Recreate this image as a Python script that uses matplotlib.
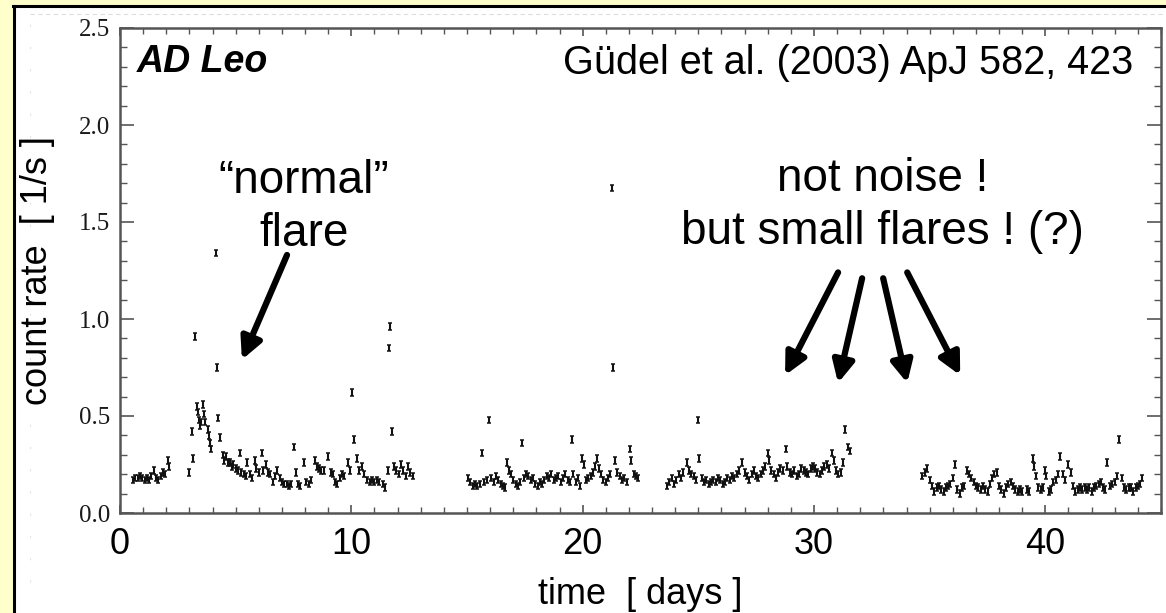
import numpy as np
import matplotlib.pyplot as plt
from matplotlib.patches import Rectangle
from matplotlib.lines import Line2D
from matplotlib.ticker import MultipleLocator

# light curve of AD Leo (time in days, count rate in 1/s)
t_a = [0.56, 0.66, 0.76, 0.86, 0.96, 1.06, 1.16, 1.26, 1.36, 1.46, 1.56, 1.66, 1.76, 1.86,
       1.96, 2.06, 2.12]
r_a = [0.17, 0.18, 0.18, 0.19, 0.18, 0.17, 0.18, 0.17, 0.19, 0.22, 0.18, 0.17, 0.19, 0.21,
       0.20, 0.27, 0.24]

t_flare = [2.98, 3.11, 3.16, 3.24, 3.33, 3.36, 3.40, 3.45, 3.50, 3.59, 3.63, 3.68, 3.80, 3.85,
           3.90, 3.94, 4.15, 4.19, 4.24, 4.32, 4.45, 4.50, 4.58, 4.65, 4.76, 4.85, 4.90, 5.00,
           5.10, 5.19, 5.25, 5.35, 5.45, 5.50, 5.60, 5.70, 5.84, 5.90, 6.00, 6.13, 6.20, 6.30,
           6.40, 6.50, 6.63, 6.70, 6.80, 6.90, 7.00, 7.10, 7.20, 7.30, 7.40, 7.52, 7.60, 7.70,
           7.80, 7.96, 8.05, 8.15, 8.25, 8.43, 8.50, 8.60, 8.70, 8.80, 9.00, 9.10, 9.20, 9.30,
           9.38, 9.50, 9.60, 9.70, 9.86, 9.95, 10.03, 10.12, 10.25, 10.35, 10.45, 10.55, 10.68,
           10.80, 10.90, 11.00, 11.10, 11.20, 11.35, 11.46, 11.60, 11.63, 11.67, 11.76, 11.85,
           11.95, 12.05, 12.15, 12.25, 12.35, 12.45, 12.55, 12.65]
r_flare = [0.21, 0.42, 0.28, 0.91, 0.55, 0.52, 0.48, 0.45, 0.47, 0.56, 0.51, 0.47, 0.43, 0.40,
           0.36, 0.33, 1.34, 0.75, 0.49, 0.39, 0.30, 0.27, 0.29, 0.26, 0.26, 0.24, 0.25, 0.23,
           0.22, 0.31, 0.21, 0.20, 0.19, 0.26, 0.20, 0.18, 0.27, 0.23, 0.21, 0.31, 0.22, 0.25,
           0.21, 0.20, 0.16, 0.19, 0.22, 0.18, 0.16, 0.15, 0.15, 0.14, 0.15, 0.34, 0.21, 0.15,
           0.14, 0.26, 0.16, 0.15, 0.17, 0.27, 0.24, 0.23, 0.22, 0.22, 0.29, 0.21, 0.20, 0.16,
           0.15, 0.18, 0.20, 0.19, 0.26, 0.22, 0.62, 0.38, 0.28, 0.22, 0.24, 0.20, 0.17,
           0.16, 0.17, 0.16, 0.17, 0.16, 0.15, 0.13, 0.22, 0.85, 0.96, 0.42, 0.24,
           0.22, 0.20, 0.25, 0.22, 0.19, 0.24, 0.21, 0.19]

t_b = [15.05, 15.15, 15.25, 15.35, 15.45, 15.55, 15.65, 15.75, 15.85, 15.95, 16.05, 16.15,
       16.25, 16.35, 16.45, 16.55, 16.65, 16.73, 16.80, 16.90, 17.00, 17.10, 17.20, 17.30,
       17.38, 17.45, 17.55, 17.65, 17.75, 17.85, 17.95, 18.05, 18.15, 18.25, 18.35, 18.45,
       18.55, 18.65, 18.75, 18.85, 18.95, 19.05, 19.15, 19.25, 19.35, 19.45, 19.54, 19.60,
       19.70, 19.80, 19.90, 19.97, 20.05, 20.15, 20.25, 20.35, 20.45, 20.55, 20.60, 20.70,
       20.80, 20.90, 21.00, 21.10, 21.20, 21.27, 21.30, 21.40, 21.50, 21.60, 21.70, 21.80,
       21.90, 22.05, 22.10, 22.20, 22.30, 22.40]
r_b = [0.18, 0.16, 0.14, 0.15, 0.14, 0.15, 0.31, 0.16, 0.17, 0.48, 0.18, 0.16,
       0.19, 0.17, 0.15, 0.14, 0.13, 0.26, 0.22, 0.20, 0.17, 0.15, 0.14, 0.16,
       0.36, 0.18, 0.20, 0.19, 0.17, 0.18, 0.15, 0.14, 0.16, 0.15, 0.17, 0.19,
       0.18, 0.20, 0.17, 0.18, 0.19, 0.16, 0.18, 0.20, 0.17, 0.16, 0.38, 0.20,
       0.16, 0.18, 0.14, 0.28, 0.25, 0.17, 0.18, 0.19, 0.21, 0.24, 0.28, 0.23,
       0.20, 0.17, 0.16, 0.18, 0.20, 1.675, 0.75, 0.27, 0.21, 0.19, 0.17, 0.18,
       0.16, 0.33, 0.27, 0.20, 0.19, 0.18]

t_c = [23.65, 23.75, 23.85, 23.95, 24.05, 24.15, 24.25, 24.35, 24.50, 24.60, 24.70, 24.80,
       24.90, 25.00, 25.05, 25.15, 25.25, 25.35, 25.45, 25.55, 25.65, 25.75, 25.85, 25.95,
       26.05, 26.15, 26.25, 26.35, 26.45, 26.55, 26.65, 26.75, 26.90, 27.00, 27.10, 27.20,
       27.30, 27.40, 27.50, 27.60, 27.70, 27.80, 27.90, 28.00, 28.05, 28.15, 28.25, 28.35,
       28.45, 28.55, 28.65, 28.80, 28.85, 28.95, 29.05, 29.15, 29.25, 29.35, 29.45, 29.55,
       29.65, 29.75, 29.85, 29.95, 30.05, 30.15, 30.25, 30.35, 30.45, 30.55, 30.65, 30.78,
       30.85, 30.95, 31.05, 31.15, 31.25, 31.35, 31.48, 31.55]
r_c = [0.14, 0.16, 0.18, 0.15, 0.17, 0.20, 0.18, 0.21, 0.26, 0.22, 0.20, 0.19,
       0.17, 0.48, 0.28, 0.18, 0.16, 0.17, 0.15, 0.16, 0.17, 0.16, 0.18, 0.17,
       0.15, 0.16, 0.18, 0.17, 0.19, 0.18, 0.20, 0.22, 0.26, 0.21, 0.19, 0.17,
       0.20, 0.22, 0.19, 0.18, 0.20, 0.22, 0.24, 0.31, 0.27, 0.22, 0.20, 0.18,
       0.21, 0.23, 0.22, 0.33, 0.24, 0.21, 0.20, 0.22, 0.19, 0.20, 0.23, 0.22,
       0.21, 0.20, 0.23, 0.24, 0.23, 0.21, 0.20, 0.22, 0.24, 0.25, 0.23, 0.31,
       0.27, 0.22, 0.20, 0.21, 0.26, 0.43, 0.34, 0.32]

t_d = [34.67, 34.80, 34.90, 35.00, 35.10, 35.20, 35.30, 35.40, 35.50, 35.60, 35.70, 35.80,
       35.90, 36.00, 36.10, 36.20, 36.30, 36.40, 36.50, 36.60, 36.70, 36.80, 36.90, 37.00,
       37.10, 37.20, 37.30, 37.40, 37.50, 37.60, 37.70, 37.80, 37.90, 38.00, 38.10, 38.20,
       38.30, 38.40, 38.50, 38.60, 38.70, 38.80, 38.90, 39.00, 39.20, 39.30, 39.45, 39.50,
       39.60, 39.70, 39.80, 39.90, 40.00, 40.05, 40.15, 40.25, 40.35, 40.45, 40.55, 40.64,
       40.75, 40.85, 41.00, 41.10, 41.20, 41.30, 41.40, 41.50, 41.60, 41.70, 41.80, 41.90,
       42.00, 42.10, 42.20, 42.30, 42.40, 42.50, 42.60, 42.67, 42.80, 42.90, 43.00, 43.10,
       43.20, 43.30, 43.40, 43.50, 43.60, 43.70, 43.80, 43.90, 44.00, 44.10, 44.20]
r_d = [0.19, 0.21, 0.23, 0.17, 0.14, 0.11, 0.13, 0.14, 0.12, 0.11, 0.13, 0.14,
       0.15, 0.18, 0.25, 0.12, 0.10, 0.13, 0.14, 0.22, 0.20, 0.18, 0.16, 0.14,
       0.13, 0.12, 0.14, 0.12, 0.11, 0.15, 0.18, 0.20, 0.21, 0.14, 0.12, 0.10,
       0.13, 0.15, 0.16, 0.14, 0.12, 0.11, 0.12, 0.11, 0.12, 0.11, 0.28, 0.24,
       0.19, 0.13, 0.12, 0.13, 0.22, 0.19, 0.11, 0.12, 0.16, 0.17, 0.20, 0.29,
       0.20, 0.17, 0.25, 0.21, 0.14, 0.11, 0.12, 0.13, 0.12, 0.13, 0.12, 0.13,
       0.11, 0.13, 0.14, 0.15, 0.16, 0.13, 0.12, 0.26, 0.14, 0.15, 0.16, 0.19,
       0.38, 0.18, 0.13, 0.12, 0.13, 0.13, 0.11, 0.13, 0.14, 0.15, 0.18]

x_ticks = [0, 10, 20, 30, 40]
y_ticks = [0.0, 0.5, 1.0, 1.5, 2.0, 2.5]

# arrow (tail, tip) positions in data units
flare_arrow = ((7.22, 1.33), (5.27, 0.79))
small_arrows = [((31.04, 1.24), (28.75, 0.71)),
                ((32.08, 1.21), (31.04, 0.67)),
                ((32.99, 1.21), (34.03, 0.67)),
                ((34.03, 1.24), (36.32, 0.71))]

W, H = 1166, 613
fig = plt.figure(figsize=(W / 100, H / 100), dpi=100, facecolor='#FFFFCC')

# white slide panel with black left/top edge
fig.patches.append(Rectangle((15 / W, 0), 1, 1 - 7 / H, transform=fig.transFigure,
                             facecolor='white', edgecolor='none', zorder=-10))
fig.lines.append(Line2D([14 / W, 14 / W], [0, 1 - 5.5 / H], transform=fig.transFigure,
                        color='black', lw=2.2, zorder=-5))
fig.lines.append(Line2D([13 / W, 1], [1 - 5.5 / H, 1 - 5.5 / H], transform=fig.transFigure,
                        color='black', lw=2.2, zorder=-5))
# faint dashed scan border
fig.lines.append(Line2D([30 / W, 1], [1 - 14 / H, 1 - 14 / H], transform=fig.transFigure,
                        color='#dddddd', lw=0.8, ls=(0, (4, 3)), zorder=-5))
fig.lines.append(Line2D([30 / W, 30 / W], [0.05, 1 - 14 / H], transform=fig.transFigure,
                        color='#e4e4e4', lw=0.8, ls=(0, (2, 18)), zorder=-5))

ax = fig.add_axes([120 / W, 1 - 513 / H, 1041 / W, 485 / H])
ax.set_facecolor('white')

t_all = t_a + t_flare + t_b + t_c + t_d
r_all = r_a + r_flare + r_b + r_c + r_d
ax.errorbar(t_all, r_all, yerr=0.017, fmt='none', ecolor='#111111',
            elinewidth=1.5, capsize=1.4, capthick=1.1)

ax.set_xlim(0, 45)
ax.set_ylim(0, 2.5)
ax.set_xticks(x_ticks)
ax.set_xticklabels([str(v) for v in x_ticks], fontsize=26, family='Liberation Sans')
ax.xaxis.set_minor_locator(MultipleLocator(1))
ax.set_yticks(y_ticks)
ax.set_yticklabels([f'{v:.1f}' for v in y_ticks], fontsize=18,
                   family='Liberation Serif', color='#1a1a1a')
ax.yaxis.set_minor_locator(MultipleLocator(0.1))
ax.tick_params(which='both', direction='in', top=True, right=True, color='#555555')
ax.tick_params(axis='x', which='major', length=6, width=1.2, pad=10)
ax.tick_params(axis='x', which='minor', length=4, width=1.0)
ax.tick_params(axis='y', which='major', length=10, width=1.2, pad=7)
ax.tick_params(axis='y', which='minor', length=5, width=1.0)
for s in ax.spines.values():
    s.set_color('#555555')
    s.set_linewidth(1.8)

ax.set_xlabel('time  [ days ]', fontsize=26, family='Liberation Sans', labelpad=11)
ax.set_ylabel('count rate  [ 1/s ]', fontsize=26, family='Liberation Sans', labelpad=17)

ax.text(0.016, 0.909, 'AD Leo', transform=ax.transAxes, fontsize=27, fontweight='bold',
        fontstyle='italic', family='Liberation Sans', va='baseline', ha='left')
ax.text(0.973, 0.905, 'Güdel et al. (2003) ApJ 582, 423', transform=ax.transAxes,
        fontsize=28.5, family='Liberation Sans', va='baseline', ha='right')

ax.text(7.95, 1.71, '\u201cnormal\u201d', fontsize=33, family='Liberation Sans',
        ha='center', va='center')
ax.text(7.95, 1.44, 'flare', fontsize=33, family='Liberation Sans', ha='center', va='center')
ax.text(32.95, 1.72, 'not noise !', fontsize=33, family='Liberation Sans',
        ha='center', va='center')
ax.text(32.95, 1.45, 'but small flares ! (?)', fontsize=33, family='Liberation Sans',
        ha='center', va='center')

arrow_props = dict(arrowstyle='-|>', lw=4.5, color='black', mutation_scale=32,
                   shrinkA=0, shrinkB=0)
ax.annotate('', xy=flare_arrow[1], xytext=flare_arrow[0], arrowprops=arrow_props)
for tail, tip in small_arrows:
    ax.annotate('', xy=tip, xytext=tail, arrowprops=arrow_props)

fig.savefig('out.png', dpi=100, facecolor=fig.get_facecolor())
